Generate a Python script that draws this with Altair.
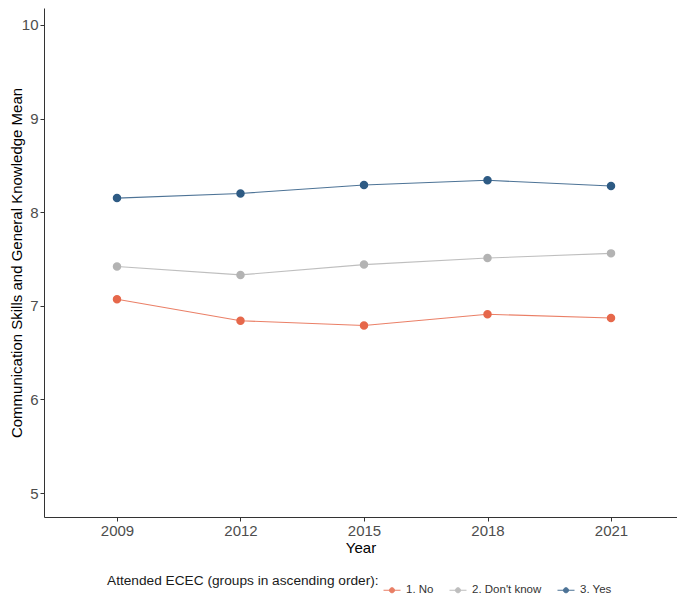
import altair as alt
import pandas as pd

years = [2009, 2012, 2015, 2018, 2021]
groups = ["1. No", "2. Don't know", "3. Yes"]
no_vals = [7.07, 6.84, 6.79, 6.91, 6.87]
dk_vals = [7.42, 7.33, 7.44, 7.51, 7.56]
yes_vals = [8.15, 8.20, 8.29, 8.34, 8.28]
colors = ["#E6684B", "#B3B3B3", "#2E5B84"]
y_ticks = [5, 6, 7, 8, 9, 10]

rows = []
for g, vals in zip(groups, [no_vals, dk_vals, yes_vals]):
    for yr, v in zip(years, vals):
        rows.append({"Year": yr, "Group": g, "Value": v})
df = pd.DataFrame(rows)

scale = alt.Scale(domain=groups, range=colors)
legend_path = "M-1,0L1,0M-0.3,0A0.3,0.3,0,1,0,0.3,0A0.3,0.3,0,1,0,-0.3,0Z"
legend = alt.Legend(
    title="Attended ECEC (groups in ascending order):",
    orient="none",
    legendX=63,
    legendY=573,
    direction="horizontal",
    titleOrient="left",
    titleAnchor="start",
    titleBaseline="middle",
    titlePadding=4,
    titleLimit=0,
    titleFontSize=13.7,
    titleFontWeight="normal",
    titleColor="#1a1a1a",
    labelFontSize=11.5,
    labelColor="#333333",
    labelOffset=5,
    columnPadding=13,
    symbolType=legend_path,
    symbolSize=289,
    symbolStrokeWidth=1,
)

x = alt.X("Year:Q", scale=alt.Scale(domain=[2007.227, 2022.603], nice=False, zero=False),
          axis=alt.Axis(values=years, format="d", title="Year"))
y = alt.Y("Value:Q", scale=alt.Scale(domain=[4.745, 10.18], nice=False, zero=False),
          axis=alt.Axis(values=y_ticks, title="Communication Skills and General Knowledge Mean",
                        titleX=-23, titleBaseline="alphabetic"))

base = alt.Chart(df)
lines = base.mark_line(strokeWidth=1.1, opacity=0.85).encode(
    x=x, y=y,
    stroke=alt.Stroke("Group:N", scale=scale, legend=legend),
)
points = base.mark_point(filled=True, size=42, opacity=1).encode(
    x=x, y=y,
    fill=alt.Fill("Group:N", scale=scale, legend=legend),
    stroke=alt.Stroke("Group:N", scale=scale, legend=legend),
)

chart = alt.layer(lines, points).properties(
    width=633, height=509,
    autosize=alt.AutoSizeParams(type="none"),
    padding={"left": 36, "top": 0, "right": 0, "bottom": 84},
).configure_view(stroke=None).configure_axis(
    grid=False,
    domainColor="#333333",
    domainWidth=1,
    tickColor="#333333",
    tickSize=4,
    labelPadding=2,
    labelFontSize=15,
    labelColor="#4d4d4d",
    labelFont="Liberation Sans",
    titleFont="Liberation Sans",
    titleFontSize=15,
    titleFontWeight="normal",
    titleColor="#000000",
    titlePadding=2,
).configure_legend(
    labelFont="Liberation Sans",
    titleFont="Liberation Sans",
)

chart.save("out.html", embed_options={"renderer": "svg", "actions": False})
